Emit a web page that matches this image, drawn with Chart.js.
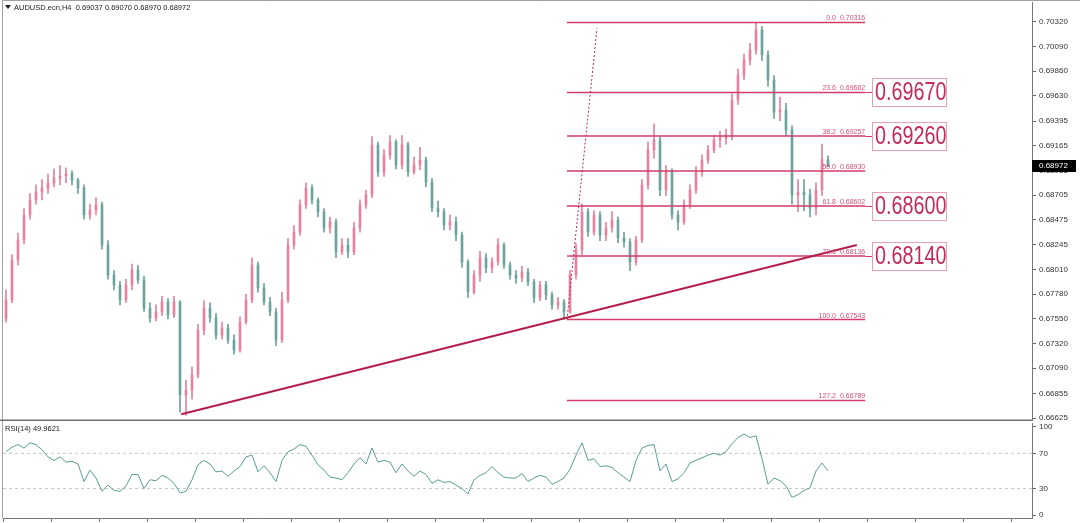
<!DOCTYPE html>
<html>
<head>
<meta charset="utf-8">
<script src="https://cdn.jsdelivr.net/npm/chart.js@4.4.1/dist/chart.umd.min.js"></script>
<style>
html, body { margin: 0; padding: 0; background: #fff; }
#wrap { position: relative; width: 1080px; height: 523px; overflow: hidden; }
canvas { position: absolute; left: 0; }
</style>
</head>
<body>
<div id="wrap">
  <canvas id="priceChart" width="1080" height="421" style="top:0"></canvas>
  <canvas id="rsiChart" width="1080" height="102" style="top:421px"></canvas>
</div>
<script>
// AUDUSD H4 candles (open = previous close)
const firstOpen = 0.6755;
const closes = [
  0.67726, 0.68099, 0.68286, 0.68519, 0.68659, 0.68734, 0.68771, 0.68818, 0.68864, 0.68883,
  0.68902, 0.68846, 0.68771, 0.68519, 0.68566, 0.68612, 0.68239, 0.67959, 0.67866, 0.67726,
  0.67866, 0.68006, 0.67913, 0.67651, 0.67558, 0.67614, 0.67707, 0.67586, 0.67707, 0.66840,
  0.66886, 0.67026, 0.67446, 0.67651, 0.67558, 0.67399, 0.67465, 0.67353, 0.67259, 0.67521,
  0.67726, 0.68053, 0.67838, 0.67707, 0.67614, 0.67353, 0.67726, 0.68239, 0.68360, 0.68612,
  0.68771, 0.68659, 0.68547, 0.68398, 0.68454, 0.68174, 0.68239, 0.68174, 0.68398, 0.68612,
  0.68706, 0.69172, 0.68920, 0.69079, 0.69200, 0.68986, 0.69172, 0.68920, 0.68986, 0.69032,
  0.68827, 0.68584, 0.68547, 0.68426, 0.68454, 0.68332, 0.68081, 0.67801, 0.67959, 0.68118,
  0.68025, 0.68081, 0.68239, 0.68053, 0.67959, 0.67931, 0.67987, 0.67894, 0.67745, 0.67866,
  0.67773, 0.67679, 0.67707, 0.67614, 0.67959, 0.68192, 0.68547, 0.68360, 0.68519, 0.68332,
  0.68398, 0.68472, 0.68304, 0.68267, 0.68081, 0.68286, 0.68799, 0.69125, 0.69219, 0.68752,
  0.68920, 0.68519, 0.68454, 0.68612, 0.68752, 0.68920, 0.69032, 0.69125, 0.69219, 0.69237,
  0.69265, 0.69592, 0.69825, 0.69965, 0.70058, 0.70245, 0.70012, 0.69779, 0.69480, 0.69499,
  0.69312, 0.68706, 0.68734, 0.68706, 0.68584, 0.68752, 0.69037, 0.68972
];
const highs = [
  0.6782, 0.6815, 0.6835, 0.6858, 0.6872, 0.6880, 0.6885, 0.6890, 0.6895, 0.6898,
  0.6896, 0.6893, 0.6886, 0.6880, 0.6862, 0.6868, 0.6864, 0.6828, 0.6800, 0.6790,
  0.6792, 0.6806, 0.6805, 0.6795, 0.6770, 0.6768, 0.6776, 0.6774, 0.6776, 0.6772,
  0.6698, 0.6710, 0.6750, 0.6772, 0.6770, 0.6760, 0.6752, 0.6750, 0.6740, 0.6757,
  0.6778, 0.6812, 0.6808, 0.6788, 0.6775, 0.6765, 0.6780, 0.6830, 0.6842, 0.6866,
  0.6882, 0.6880, 0.6868, 0.6858, 0.6850, 0.6848, 0.6830, 0.6830, 0.6845, 0.6866,
  0.6875, 0.6925, 0.6920, 0.6913, 0.6926, 0.6922, 0.6926, 0.6920, 0.6906, 0.6915,
  0.6906, 0.6886, 0.6865, 0.6858, 0.6852, 0.6850, 0.6836, 0.6810, 0.6800, 0.6818,
  0.6816, 0.6812, 0.6830, 0.6826, 0.6808, 0.6800, 0.6804, 0.6802, 0.6792, 0.6790,
  0.6790, 0.6780, 0.6775, 0.6773, 0.6800, 0.6825, 0.6862, 0.6858, 0.6856, 0.6855,
  0.6845, 0.6855, 0.6850, 0.6836, 0.6830, 0.6832, 0.6885, 0.6920, 0.6937, 0.6925,
  0.6898, 0.6895, 0.6856, 0.6866, 0.6880, 0.6897, 0.6908, 0.6917, 0.6926, 0.6930,
  0.6932, 0.6965, 0.6988, 0.7002, 0.7012, 0.70316, 0.7028, 0.7005, 0.6982, 0.6962,
  0.6956, 0.6935, 0.6885, 0.6885, 0.6876, 0.6882, 0.6918, 0.69070
];
const lows = [
  0.6752, 0.6770, 0.6805, 0.6825, 0.6848, 0.6862, 0.6866, 0.6872, 0.6878, 0.6880,
  0.6882, 0.6880, 0.6872, 0.6848, 0.6848, 0.6852, 0.6820, 0.6792, 0.6782, 0.6768,
  0.6770, 0.6782, 0.6788, 0.6762, 0.6752, 0.6753, 0.6758, 0.6755, 0.6756, 0.6668,
  0.6665, 0.6680, 0.6700, 0.6740, 0.6752, 0.6736, 0.6736, 0.6732, 0.6722, 0.6724,
  0.6750, 0.6770, 0.6780, 0.6768, 0.6758, 0.6730, 0.6733, 0.6770, 0.6820, 0.6833,
  0.6858, 0.6862, 0.6850, 0.6836, 0.6835, 0.6812, 0.6815, 0.6812, 0.6815, 0.6836,
  0.6858, 0.6868, 0.6888, 0.6888, 0.6904, 0.6895, 0.6895, 0.6888, 0.6890, 0.6894,
  0.6878, 0.6855, 0.6850, 0.6838, 0.6838, 0.6828, 0.6803, 0.6775, 0.6778, 0.6790,
  0.6798, 0.6798, 0.6805, 0.6802, 0.6792, 0.6788, 0.6790, 0.6786, 0.6770, 0.6772,
  0.6773, 0.6764, 0.6764, 0.67543, 0.6760, 0.6792, 0.6815, 0.6832, 0.6833, 0.6828,
  0.6828, 0.6836, 0.6826, 0.6822, 0.6800, 0.6805, 0.6826, 0.6876, 0.6905, 0.6870,
  0.6870, 0.6848, 0.6838, 0.6843, 0.6858, 0.6872, 0.6888, 0.6900, 0.6910, 0.6915,
  0.6918, 0.6922, 0.6955, 0.6978, 0.6992, 0.7002, 0.6996, 0.6972, 0.6942, 0.6940,
  0.6926, 0.6862, 0.6855, 0.6856, 0.6850, 0.6852, 0.6870, 0.68970
];
// RSI(14), one value per candle
const rsiValues = [
  72, 77, 80, 76, 82, 80, 74, 66, 62, 66,
  60, 61, 58, 38, 51, 42, 27, 34, 28, 27,
  33, 46, 46, 30, 40, 39, 45, 42, 36, 25,
  27, 40, 57, 62, 58, 49, 50, 44, 50, 55,
  66, 68, 49, 56, 48, 38, 62, 72, 75, 80,
  78, 68, 57, 51, 43, 42, 40, 48, 58, 65,
  58, 76, 60, 62, 60, 48, 58, 50, 44, 50,
  46, 36, 40, 37, 38, 34, 30, 24, 40, 45,
  48, 55, 48, 43, 42, 42, 47, 38, 42, 45,
  43, 35, 38, 42, 52, 68, 82, 62, 64, 55,
  56, 54, 48, 43, 38, 62, 76, 79, 80, 50,
  58, 38, 41, 48, 59, 62, 65, 68, 70, 68,
  72, 81, 88, 92, 88, 90, 64, 35, 42, 39,
  33, 20, 23, 28, 31, 50, 59, 49.9621
];

const priceTicks = [0.70320, 0.70090, 0.69860, 0.69630, 0.69395, 0.69165, 0.68935, 0.68705,
  0.68475, 0.68245, 0.68010, 0.67780, 0.67550, 0.67320, 0.67090, 0.66855, 0.66625];
const rsiTicks = [0, 30, 70, 100];
const rsiLevels = [70, 30];

const fibLevels = [0.0, 23.6, 38.2, 50.0, 61.8, 78.6, 100.0, 127.2];
const fibPrices = [0.70316, 0.69662, 0.69257, 0.68930, 0.68602, 0.68136, 0.67543, 0.66789];
const callouts = [0.69670, 0.69260, 0.68600, 0.68140];
const trendLine = [{ x: 29.2, y: 0.66660 }, { x: 141.8, y: 0.68239 }];
const fibAnchor = [{ x: 93.5, y: 0.67543 }, { x: 98.5, y: 0.70260 }];
const fibStart = 93.5, fibEnd = 143.2;
const symbol = 'AUDUSD.ecn,H4';

const FONT = '"Liberation Sans", Arial, sans-serif';
const BULL = '#e6819e';
const BEAR = '#6ca39a';
const FIB = '#d23c66';

Chart.defaults.font.family = FONT;

const opens = closes.map((c, i) => i === 0 ? firstOpen : closes[i - 1]);
const candleColors = closes.map((c, i) => c >= opens[i] ? BULL : BEAR);
const last = closes.length - 1;

// keep the plot area exactly where the layout puts it
function fixAxis(size) {
  return s => {
    s.width = size;
    s.paddingTop = 0;
    s.paddingBottom = 0;
  };
}

const priceOverlay = {
  id: 'priceOverlay',
  afterDraw(chart) {
    const { ctx, chartArea: a, scales: { x, y } } = chart;
    ctx.save();
    // frame
    ctx.strokeStyle = '#a0a0a0';
    ctx.lineWidth = 1;
    ctx.beginPath();
    ctx.moveTo(a.left - 0.5, a.bottom);
    ctx.lineTo(a.left - 0.5, 0.5);
    ctx.lineTo(1080, 0.5);
    ctx.stroke();
    ctx.fillStyle = '#6e6e6e';
    ctx.fillRect(0, a.bottom - 0.5, a.right, 2);

    // title
    ctx.fillStyle = '#222';
    ctx.beginPath();
    ctx.moveTo(5, 5); ctx.lineTo(11, 5); ctx.lineTo(8, 9); ctx.closePath(); ctx.fill();
    ctx.font = '7.5px ' + FONT;
    ctx.textBaseline = 'middle';
    ctx.fillText(symbol + '  ' + [opens[last], highs[last], lows[last], closes[last]].map(v => v.toFixed(5)).join(' '), 14, 7.5);

    // fibonacci labels
    const lx = x.getPixelForValue(fibEnd);
    ctx.font = '7px ' + FONT;
    ctx.fillStyle = '#d4507a';
    ctx.textAlign = 'right';
    ctx.textBaseline = 'alphabetic';
    fibLevels.forEach((lv, i) => {
      const py = y.getPixelForValue(fibPrices[i]);
      ctx.fillText(lv.toFixed(1) + '  ' + fibPrices[i].toFixed(5), lx, py - 2);
    });

    // callout boxes
    ctx.textAlign = 'left';
    callouts.forEach(v => {
      const py = Math.round(y.getPixelForValue(v));
      const bx = Math.round(lx) + 7;
      ctx.strokeStyle = FIB;
      ctx.lineWidth = 1;
      ctx.beginPath();
      ctx.moveTo(lx, py + 0.5); ctx.lineTo(bx, py + 0.5); ctx.stroke();
      ctx.strokeStyle = '#e6a2b4';
      ctx.strokeRect(bx + 0.5, py - 14 + 0.5, 74, 28);
      ctx.save();
      ctx.translate(bx + 3, py + 1);
      ctx.scale(0.79, 1);
      ctx.font = '25px ' + FONT;
      ctx.fillStyle = '#c42a5a';
      ctx.textBaseline = 'middle';
      ctx.fillText(v.toFixed(5), 0, 0);
      ctx.restore();
    });

    // current price marker
    const cy = Math.round(y.getPixelForValue(closes[last]));
    ctx.fillStyle = '#000';
    ctx.fillRect(a.right, cy - 6, 44, 12);
    ctx.fillStyle = '#fff';
    ctx.font = '8px ' + FONT;
    ctx.textBaseline = 'middle';
    ctx.fillText(closes[last].toFixed(5), a.right + 7, cy);
    ctx.restore();
  }
};

new Chart(document.getElementById('priceChart'), {
  type: 'bar',
  data: {
    datasets: [
      {
        data: closes.map((c, i) => ({ x: i, y: [lows[i], highs[i]] })),
        backgroundColor: candleColors,
        barThickness: 1,
        grouped: false,
        order: 3
      },
      {
        data: closes.map((c, i) => ({ x: i, y: [opens[i], c] })),
        backgroundColor: candleColors,
        barThickness: 2,
        minBarLength: 1,
        grouped: false,
        order: 2
      },
      ...fibPrices.map(p => ({
        type: 'line',
        data: [{ x: fibStart, y: p }, { x: fibEnd, y: p }],
        borderColor: FIB,
        borderWidth: 1.5,
        pointRadius: 0,
        order: 1
      })),
      {
        type: 'line',
        data: trendLine,
        borderColor: '#b51d4a',
        borderWidth: 2,
        pointRadius: 0,
        order: 0
      },
      {
        type: 'line',
        data: fibAnchor,
        borderColor: '#b03050',
        borderWidth: 1,
        borderDash: [2, 2],
        pointRadius: 0,
        order: 0
      }
    ]
  },
  options: {
    responsive: false,
    animation: false,
    events: [],
    layout: { padding: { top: 2, left: 3, right: 0, bottom: 1 } },
    plugins: { legend: { display: false }, tooltip: { enabled: false } },
    scales: {
      x: { type: 'linear', min: -0.5, max: 171, offset: false, display: false },
      y: {
        position: 'right',
        min: 0.666064,
        max: 0.705063,
        afterBuildTicks: s => { s.ticks = priceTicks.map(v => ({ value: v })); },
        afterFit: fixAxis(48),
        ticks: { callback: v => v.toFixed(5), font: { size: 8 }, color: '#333', padding: 3, autoSkip: false },
        grid: { drawOnChartArea: false, tickLength: 4, color: '#666' },
        border: { display: true, color: '#777' }
      }
    }
  },
  plugins: [priceOverlay]
});

const rsiOverlay = {
  id: 'rsiOverlay',
  afterDraw(chart) {
    const { ctx, chartArea: a } = chart;
    ctx.save();
    ctx.strokeStyle = '#a0a0a0';
    ctx.beginPath();
    ctx.moveTo(a.left - 0.5, 0); ctx.lineTo(a.left - 0.5, a.bottom); ctx.stroke();
    ctx.fillStyle = '#222';
    ctx.font = '7.5px ' + FONT;
    ctx.textBaseline = 'middle';
    ctx.fillText('RSI(14) ' + rsiValues[last].toFixed(4), 5, 8);
    ctx.restore();
  }
};

new Chart(document.getElementById('rsiChart'), {
  type: 'line',
  data: {
    datasets: [
      {
        data: rsiValues.map((v, i) => ({ x: i, y: v })),
        borderColor: '#5a9c96',
        borderWidth: 1,
        pointRadius: 0,
        order: 0
      },
      ...rsiLevels.map(l => ({
        data: [{ x: -0.5, y: l }, { x: 171, y: l }],
        borderColor: '#c4c4c4',
        borderWidth: 1,
        borderDash: [3, 3],
        pointRadius: 0,
        order: 1
      }))
    ]
  },
  options: {
    responsive: false,
    animation: false,
    events: [],
    layout: { padding: { top: 2, left: 3, right: 0, bottom: 0 } },
    plugins: { legend: { display: false }, tooltip: { enabled: false } },
    scales: {
      x: {
        type: 'linear', min: -0.5, max: 171, offset: false,
        afterBuildTicks: s => { const t = []; for (let v = -0.5; v <= 171; v += 8) t.push({ value: v }); s.ticks = t; },
        afterFit: s => { s.height = 5; s.paddingLeft = 0; s.paddingRight = 0; },
        ticks: { display: false },
        grid: { drawOnChartArea: false, tickLength: 4, color: '#777' },
        border: { display: true, color: '#777' }
      },
      y: {
        position: 'right',
        min: -3.4,
        max: 104.5,
        afterBuildTicks: s => { s.ticks = rsiTicks.map(v => ({ value: v })); },
        afterFit: fixAxis(48),
        ticks: { font: { size: 8 }, color: '#333', padding: 3, autoSkip: false },
        grid: { drawOnChartArea: false, tickLength: 4, color: '#666' },
        border: { display: true, color: '#777' }
      }
    }
  },
  plugins: [rsiOverlay]
});
</script>
</body>
</html>
